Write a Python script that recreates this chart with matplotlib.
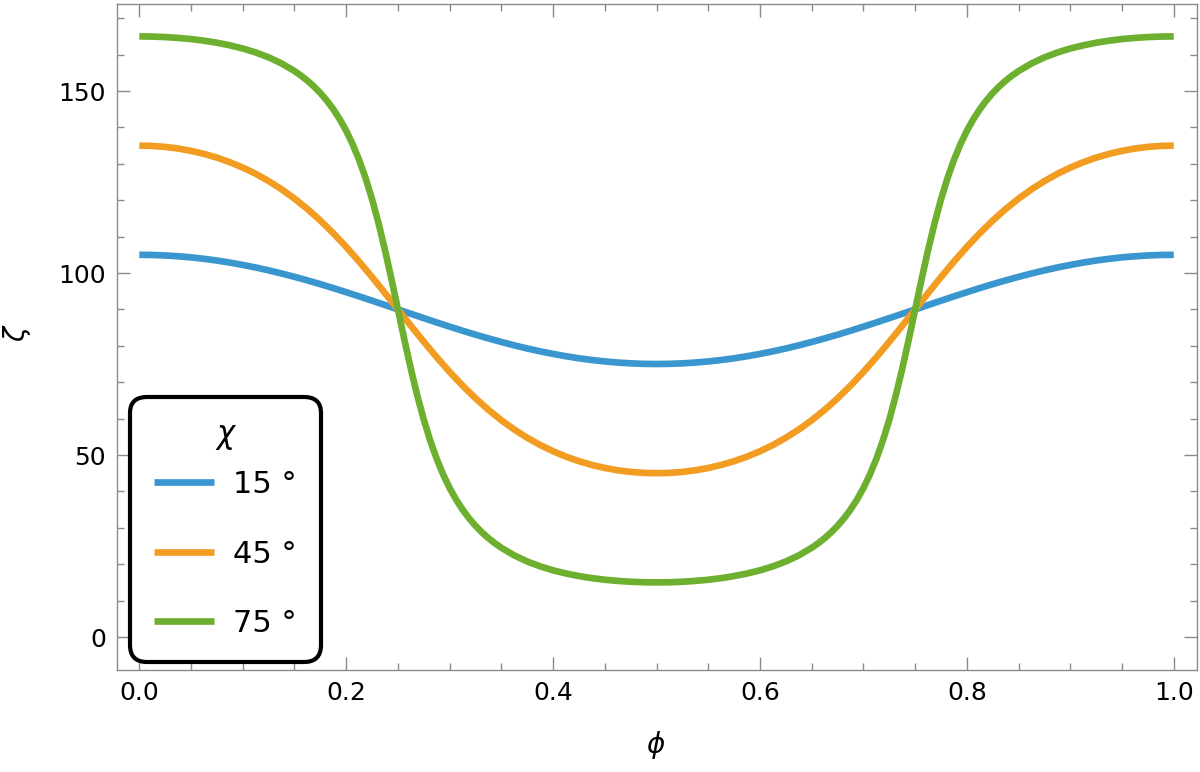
import matplotlib
matplotlib.use("Agg")
import matplotlib.pyplot as plt
from matplotlib.ticker import MultipleLocator, FormatStrFormatter

phi = [0.0, 0.0125, 0.025, 0.0375, 0.05, 0.0625, 0.075, 0.0875, 0.1, 0.1125,
       0.125, 0.1375, 0.15, 0.1625, 0.175, 0.1875, 0.2, 0.2125, 0.225, 0.2375,
       0.25, 0.2625, 0.275, 0.2875, 0.3, 0.3125, 0.325, 0.3375, 0.35, 0.3625,
       0.375, 0.3875, 0.4, 0.4125, 0.425, 0.4375, 0.45, 0.4625, 0.475, 0.4875,
       0.5, 0.5125, 0.525, 0.5375, 0.55, 0.5625, 0.575, 0.5875, 0.6, 0.6125,
       0.625, 0.6375, 0.65, 0.6625, 0.675, 0.6875, 0.7, 0.7125, 0.725, 0.7375,
       0.75, 0.7625, 0.775, 0.7875, 0.8, 0.8125, 0.825, 0.8375, 0.85, 0.8625,
       0.875, 0.8875, 0.9, 0.9125, 0.925, 0.9375, 0.95, 0.9625, 0.975, 0.9875,
       1.0]

zeta_15 = [105.00, 104.96, 104.82, 104.60, 104.30, 103.90, 103.43, 102.87, 102.22, 101.52,
           100.73, 99.87, 98.95, 97.97, 96.94, 95.86, 94.73, 93.58, 92.40, 91.20,
           90.00, 88.80, 87.60, 86.42, 85.27, 84.14, 83.06, 82.03, 81.05, 80.13,
           79.27, 78.48, 77.78, 77.13, 76.57, 76.10, 75.70, 75.40, 75.18, 75.04,
           75.00, 75.04, 75.18, 75.40, 75.70, 76.10, 76.57, 77.13, 77.78, 78.48,
           79.27, 80.13, 81.05, 82.03, 83.06, 84.14, 85.27, 86.42, 87.60, 88.80,
           90.00, 91.20, 92.40, 93.58, 94.73, 95.86, 96.94, 97.97, 98.95, 99.87,
           100.73, 101.52, 102.22, 102.87, 103.43, 103.90, 104.30, 104.60, 104.82, 104.96,
           105.00]

zeta_45 = [135.00, 134.91, 134.65, 134.20, 133.56, 132.73, 131.70, 130.45, 128.97, 127.25,
           125.26, 123.00, 120.45, 117.59, 114.42, 110.94, 107.17, 103.14, 98.89, 94.49,
           90.00, 85.51, 81.11, 76.86, 72.83, 69.06, 65.58, 62.41, 59.55, 57.00,
           54.74, 52.75, 51.03, 49.55, 48.30, 47.27, 46.44, 45.80, 45.35, 45.09,
           45.00, 45.09, 45.35, 45.80, 46.44, 47.27, 48.30, 49.55, 51.03, 52.75,
           54.74, 57.00, 59.55, 62.41, 65.58, 69.06, 72.83, 76.86, 81.11, 85.51,
           90.00, 94.49, 98.89, 103.14, 107.17, 110.94, 114.42, 117.59, 120.45, 123.00,
           125.26, 127.25, 128.97, 130.45, 131.70, 132.73, 133.56, 134.20, 134.65, 134.91,
           135.00]

# the 75 deg curve is read at a finer step where it is steep
phi_75 = [0.0, 0.0125, 0.025, 0.0375, 0.05, 0.0625, 0.075, 0.0875, 0.1, 0.1125,
          0.125, 0.1375, 0.15,
          0.15625, 0.1625, 0.16875, 0.175, 0.18125, 0.1875, 0.19375, 0.2, 0.20625,
          0.2125, 0.21875, 0.225, 0.23125, 0.2375, 0.24375, 0.25, 0.25625, 0.2625,
          0.26875, 0.275, 0.28125, 0.2875, 0.29375, 0.3, 0.30625, 0.3125, 0.31875,
          0.325, 0.33125, 0.3375, 0.34375,
          0.35, 0.3625, 0.375, 0.3875, 0.4, 0.4125, 0.425, 0.4375, 0.45, 0.4625,
          0.475, 0.4875, 0.5, 0.5125, 0.525, 0.5375, 0.55, 0.5625, 0.575, 0.5875,
          0.6, 0.6125, 0.625, 0.6375, 0.65,
          0.65625, 0.6625, 0.66875, 0.675, 0.68125, 0.6875, 0.69375, 0.7, 0.70625,
          0.7125, 0.71875, 0.725, 0.73125, 0.7375, 0.74375, 0.75, 0.75625, 0.7625,
          0.76875, 0.775, 0.78125, 0.7875, 0.79375, 0.8, 0.80625, 0.8125, 0.81875,
          0.825, 0.83125, 0.8375, 0.84375,
          0.85, 0.8625, 0.875, 0.8875, 0.9, 0.9125, 0.925, 0.9375, 0.95, 0.9625,
          0.975, 0.9875, 1.0]

zeta_75 = [165.00, 164.96, 164.82, 164.59, 164.27, 163.83, 163.26, 162.55, 161.68, 160.59,
           159.25, 157.58, 155.49,
           154.25, 152.85, 151.26, 149.45, 147.38, 145.00, 142.26, 139.07, 135.37,
           131.06, 126.06, 120.28, 113.69, 106.32, 98.34, 90.00, 81.66, 73.68,
           66.31, 59.72, 53.94, 48.94, 44.63, 40.93, 37.74, 35.00, 32.62,
           30.55, 28.74, 27.15, 25.75,
           24.51, 22.42, 20.75, 19.41, 18.32, 17.45, 16.74, 16.17, 15.73, 15.41,
           15.18, 15.04, 15.00, 15.04, 15.18, 15.41, 15.73, 16.17, 16.74, 17.45,
           18.32, 19.41, 20.75, 22.42, 24.51,
           25.75, 27.15, 28.74, 30.55, 32.62, 35.00, 37.74, 40.93, 44.63,
           48.94, 53.94, 59.72, 66.31, 73.68, 81.66, 90.00, 98.34, 106.32,
           113.69, 120.28, 126.06, 131.06, 135.37, 139.07, 142.26, 145.00, 147.38,
           149.45, 151.26, 152.85, 154.25,
           155.49, 157.58, 159.25, 160.59, 161.68, 162.55, 163.26, 163.83, 164.27, 164.59,
           164.82, 164.96, 165.00]

labels = ["15 °", "45 °", "75 °"]
colors = ["#3A96CF", "#F29D22", "#6DAF2F"]

plt.rcParams["font.family"] = ["DejaVu Sans"]

fig = plt.figure(figsize=(12, 7.72), dpi=100)
ax = fig.add_axes([0.0978, 0.1321, 0.8995, 0.8627])

series = [(phi, zeta_15), (phi, zeta_45), (phi_75, zeta_75)]
for (xs, ys), lab, col in zip(series, labels, colors):
    ax.plot(xs, ys, color=col, lw=4.8, label=lab, solid_capstyle="butt",
            solid_joinstyle="round")

ax.set_xlim(-0.0212, 1.0222)
ax.set_ylim(-9.07, 173.9)

ax.xaxis.set_major_locator(MultipleLocator(0.2))
ax.xaxis.set_minor_locator(MultipleLocator(0.05))
ax.yaxis.set_major_locator(MultipleLocator(50))
ax.yaxis.set_minor_locator(MultipleLocator(10))
ax.xaxis.set_major_formatter(FormatStrFormatter("%.1f"))

gray = "#8a8a8a"
for s in ax.spines.values():
    s.set_color(gray)
    s.set_linewidth(1.0)
ax.tick_params(which="both", direction="in", top=True, right=True, color=gray,
               labelsize=18, labelcolor="black", width=1.0, pad=8)
ax.tick_params(which="major", length=9.5)
ax.tick_params(which="minor", length=5)

ax.set_xlabel("ϕ", fontsize=20, style="italic", va="center")
ax.xaxis.set_label_coords(0.498, -0.1126)
ax.set_ylabel("ζ", fontsize=20, style="italic", va="center", ha="center")
ax.yaxis.set_label_coords(-0.093, 0.5045)

leg = ax.legend(loc="lower left", bbox_to_anchor=(0.0118, 0.012), borderaxespad=0,
                fontsize=22, title="χ", title_fontsize=22, handlelength=1.95,
                handletextpad=0.65, labelspacing=1.33, borderpad=0.78,
                fancybox=True, framealpha=1, edgecolor="black")
leg.get_title().set_style("italic")
leg._legend_box.sep = 14
frame = leg.get_frame()
frame.set_linewidth(3)
frame.set_boxstyle("round,pad=0,rounding_size=0.55")
for line in leg.get_lines():
    line.set_linewidth(4.8)

fig.savefig("out.png", dpi=100)
